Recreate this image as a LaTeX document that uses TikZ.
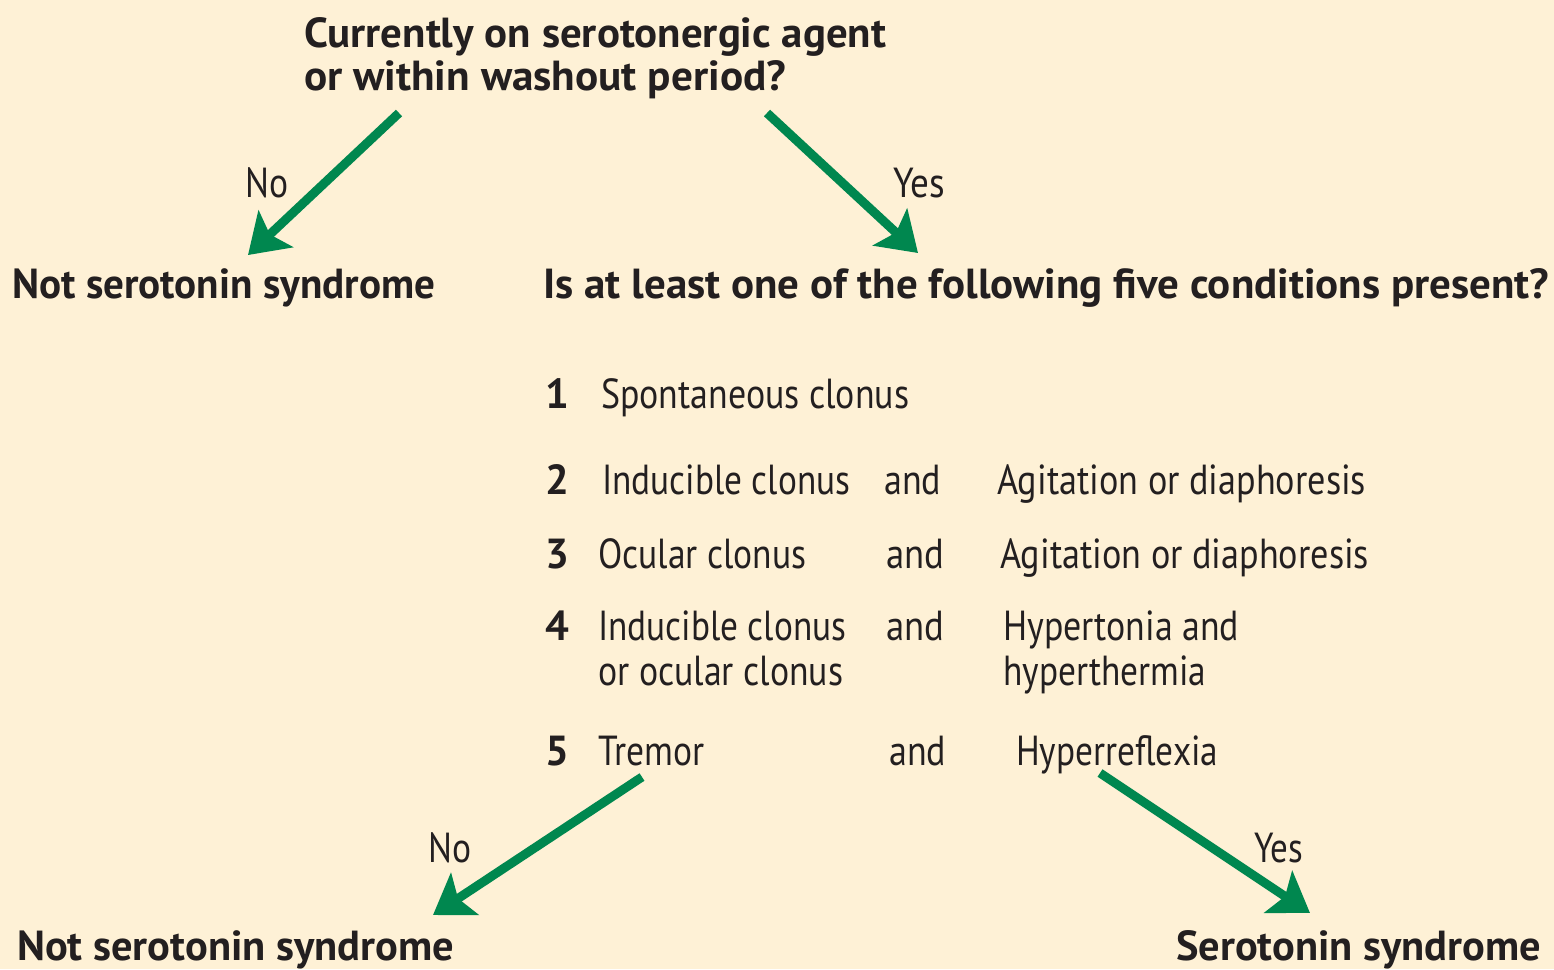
\documentclass[tikz,border=0pt]{standalone}
\usepackage{fontspec}
\usepackage{graphicx}
\setmainfont{PT Sans}
\usetikzlibrary{arrows.meta}
\definecolor{bg}{HTML}{FEF1D6}
\definecolor{arrowgreen}{HTML}{00874F}
\definecolor{ink}{HTML}{231F20}
\newcommand\fitto[2]{\setbox0=\hbox{#2}\dimen0=\wd0\pgfmathsetmacro\fsx{#1/\the\dimen0}\scalebox{\fsx}[1]{\box0}}
\tikzset{
  txt/.style={anchor=base west, inner sep=0pt, text=ink, font=\fontsize{42}{46}\selectfont},
  bold/.style={txt, font=\fontsize{42}{46}\selectfont\bfseries},
  arr/.style={draw=arrowgreen, line width=9pt, -{Stealth[length=38pt,width=50pt,inset=8pt]}}
}
\begin{document}
\begin{tikzpicture}[x=1pt,y=-1pt]
\useasboundingbox (0,0) rectangle (1554,969);
\fill[bg] (0,0) rectangle (1554,969);
% top question
\node[bold] (q1a) at (304,47) {\fitto{582}{Currently on serotonergic agent}};
\node[bold] (q1b) at (304,90) {\fitto{482}{or within washout period?}};
% outcomes of first question
\node[bold] (nss1) at (12,298) {\fitto{423}{Not serotonin syndrome}};
\node[bold] (q2) at (543,298) {\fitto{1006}{Is at least one of the following five conditions present?}};
\coordinate (a1s) at (399,113); \coordinate (a1e) at (248,255);
\coordinate (a2s) at (767,113); \coordinate (a2e) at (918,253);
\draw[arr] (a1s) -- (a1e);
\draw[arr] (a2s) -- (a2e);
\node[txt] (no1) at (245,197) {\fitto{43}{No}};
\node[txt] (yes1) at (893,197) {\fitto{52}{Yes}};
% conditions
\node[bold] (n1) at (545,408) {1};
\node[txt] (c1) at (601,408) {\fitto{308}{Spontaneous clonus}};
\node[bold] (n2) at (545,494) {2};
\node[txt] (c2a) at (602,494) {\fitto{248}{Inducible clonus}};
\node[txt] (c2b) at (884,494) {\fitto{57}{and}};
\node[txt] (c2c) at (997,494) {\fitto{369}{Agitation or diaphoresis}};
\node[bold] (n3) at (545,568) {3};
\node[txt] (c3a) at (598,568) {\fitto{208}{Ocular clonus}};
\node[txt] (c3b) at (886,568) {\fitto{58}{and}};
\node[txt] (c3c) at (1000,568) {\fitto{369}{Agitation or diaphoresis}};
\node[bold] (n4) at (545,640) {4};
\node[txt] (c4a) at (598,640) {\fitto{248}{Inducible clonus}};
\node[txt] (c4a2) at (598,685) {\fitto{245}{or ocular clonus}};
\node[txt] (c4b) at (886,640) {\fitto{58}{and}};
\node[txt] (c4c) at (1003,640) {\fitto{236}{Hypertonia and}};
\node[txt] (c4c2) at (1003,685) {\fitto{203}{hyperthermia}};
\node[bold] (n5) at (545,765) {5};
\node[txt] (c5a) at (598,765) {\fitto{106}{Tremor}};
\node[txt] (c5b) at (889,765) {\fitto{57}{and}};
\node[txt] (c5c) at (1016,765) {\fitto{202}{Hyperreflexia}};
% bottom arrows
\coordinate (a3s) at (642,777); \coordinate (a3e) at (433,915);
\coordinate (a4s) at (1100,773); \coordinate (a4e) at (1310,913);
\draw[arr] (a3s) -- (a3e);
\draw[arr] (a4s) -- (a4e);
\node[txt] (no2) at (428,862) {\fitto{43}{No}};
\node[txt] (yes2) at (1254,862) {\fitto{49}{Yes}};
\node[bold] (nss2) at (17,960) {\fitto{437}{Not serotonin syndrome}};
\node[bold] (ss) at (1176,960) {\fitto{365}{Serotonin syndrome}};
\end{tikzpicture}
\end{document}
